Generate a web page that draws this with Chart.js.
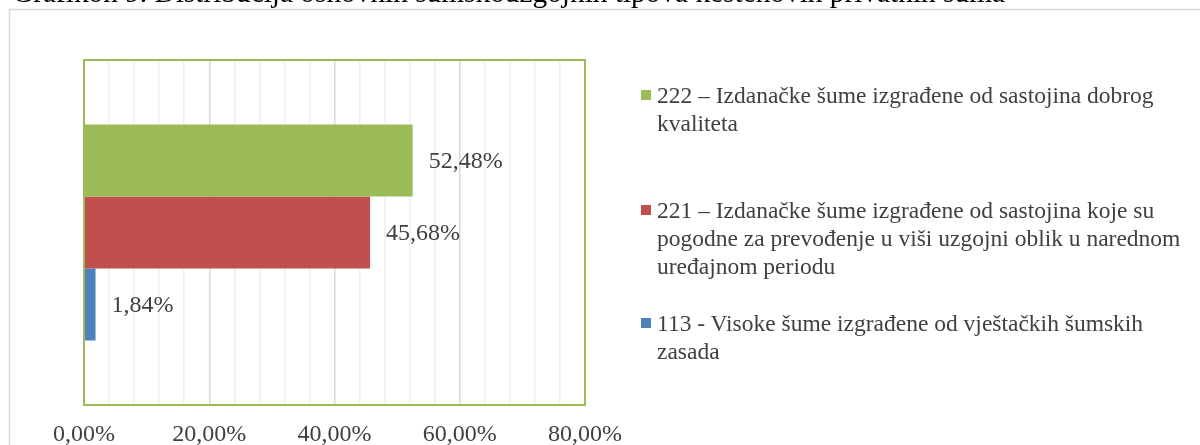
<!DOCTYPE html>
<html>
<head>
<meta charset="utf-8">
<script src="https://cdn.jsdelivr.net/npm/chart.js@4.4.1/dist/chart.umd.min.js"></script>
<style>
  html, body { margin:0; padding:0; background:#fff; }
  #wrap { position:relative; width:1200px; height:445px; overflow:hidden; }
  #title { position:absolute; left:12px; top:0; white-space:nowrap; font-family:'Liberation Serif','Times New Roman',serif; color:#000; line-height:1; }
  #legend { position:absolute; left:0; top:0; font-family:'Liberation Serif','Times New Roman',serif; font-size:23.5px; color:#404040; }
  .item { position:absolute; left:657px; width:540px; line-height:28px; }
  .sw { position:absolute; left:-16px; top:9px; width:10px; height:10px; }
  canvas { position:absolute; left:0; top:0; }
</style>
</head>
<body>
<div id="wrap">
  <canvas id="c" width="1200" height="445"></canvas>
  <div id="title"></div>
  <div id="legend"></div>
</div>
<script>
const titleText = "Grafikon 9. Distribucija osnovnih šumskouzgojnih tipova kestenovih privatnih šuma";
const categories = [""];
const seriesLabels = [
  "222 – Izdanačke šume izgrađene od sastojina dobrog kvaliteta",
  "221 – Izdanačke šume izgrađene od sastojina koje su pogodne za prevođenje u viši uzgojni oblik u narednom uređajnom periodu",
  "113 - Visoke šume izgrađene od vještačkih šumskih zasada"
];
const seriesValues = [52.48, 45.68, 1.84];
const seriesColors = ["#9BBB59", "#C0504D", "#4F81BD"];
const tickLabelsMajor = [0, 20, 40, 60, 80];
const legendTops = [81, 196, 309];

const fmt = v => v.toFixed(2).replace('.', ',') + '%';
const FONT = "'Liberation Serif','Times New Roman',serif";

// title fitted to reference width
(function(){
  const t = document.getElementById('title');
  t.textContent = titleText;
  const cv = document.createElement('canvas').getContext('2d');
  cv.font = "100px " + FONT;
  const w = cv.measureText(titleText).width;
  const fs = 100 * 993 / w;
  t.style.fontSize = fs.toFixed(2) + 'px';
  t.style.top = (4 - fs * 0.891) + 'px';
})();

// legend
(function(){
  const lg = document.getElementById('legend');
  seriesLabels.forEach((lab, i) => {
    const d = document.createElement('div');
    d.className = 'item';
    d.style.top = legendTops[i] + 'px';
    const s = document.createElement('span');
    s.className = 'sw';
    s.style.background = seriesColors[i];
    d.appendChild(s);
    d.appendChild(document.createTextNode(lab));
    lg.appendChild(d);
  });
})();

const framePlugin = {
  id: 'frame',
  beforeDraw(chart) {
    const ctx = chart.ctx;
    ctx.save();
    ctx.strokeStyle = '#d9d9d9';
    ctx.lineWidth = 1.5;
    ctx.strokeRect(9.5, 9.5, 1400, 800);
    ctx.restore();
  },
  afterDatasetsDraw(chart) {
    const ctx = chart.ctx;
    const a = chart.chartArea;
    ctx.save();
    ctx.strokeStyle = '#9BBB59';
    ctx.lineWidth = 2;
    ctx.strokeRect(a.left, a.top, a.right - a.left, a.bottom - a.top);
    ctx.font = "24px " + FONT;
    ctx.fillStyle = '#404040';
    ctx.textBaseline = 'middle';
    ctx.textAlign = 'left';
    chart.data.datasets.forEach((ds, i) => {
      const meta = chart.getDatasetMeta(i);
      meta.data.forEach((bar, j) => {
        ctx.fillText(fmt(ds.data[j]), bar.x + 16, bar.y + 1);
      });
    });
    ctx.restore();
  }
};

new Chart(document.getElementById('c'), {
  type: 'bar',
  data: {
    labels: categories,
    datasets: seriesLabels.map((lab, i) => ({
      label: lab,
      data: [seriesValues[i]],
      backgroundColor: seriesColors[i],
      borderWidth: 0,
      categoryPercentage: 0.626,
      barPercentage: 1.0
    }))
  },
  options: {
    indexAxis: 'y',
    responsive: false,
    animation: false,
    devicePixelRatio: 1,
    layout: { padding: { left: 84, right: 615, top: 60, bottom: 0 } },
    plugins: { legend: { display: false }, tooltip: { enabled: false }, title: { display: false } },
    scales: {
      y: { display: false },
      x: {
        min: 0, max: 80,
        afterFit(scale) { scale.height = 40; },
        border: { display: false },
        grid: {
          drawTicks: false,
          lineWidth: 1.5,
          color: ctx => (ctx.tick && tickLabelsMajor.includes(ctx.tick.value)) ? '#d9d9d9' : '#f0f0f0'
        },
        ticks: {
          stepSize: 4,
          autoSkip: false,
          maxRotation: 0,
          padding: 15,
          color: '#404040',
          font: { family: FONT, size: 24 },
          callback: v => tickLabelsMajor.includes(v) ? fmt(v) : ''
        }
      }
    }
  },
  plugins: [framePlugin]
});
</script>
</body>
</html>
